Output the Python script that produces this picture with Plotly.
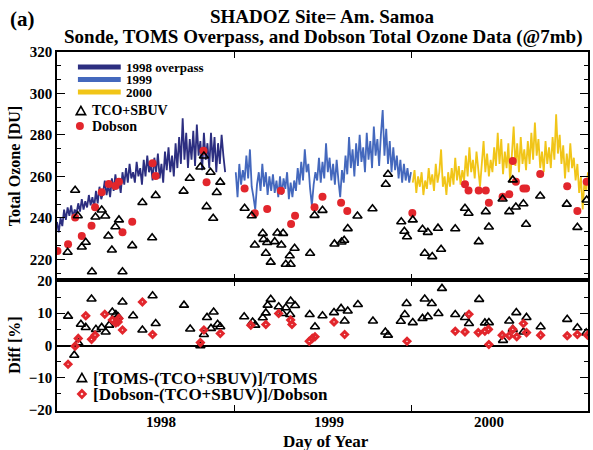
import plotly.graph_objects as go

# ---------------- data ----------------
# TOMS overpass total ozone (DU), sampled every 4 days; x = day index on the plot axis
days_1998 = list(range(0, 381, 4))
toms_1998 = [238, 233, 240, 236, 244, 239, 245, 241, 246, 240,
             244, 242, 247, 243, 249, 244, 248, 245, 251, 246,
             250, 245, 253, 247, 255, 249, 252, 258, 251, 256,
             250, 259, 253, 261, 254, 258, 252, 262, 256, 264,
             257, 266, 259, 262, 257, 267, 260, 264, 256, 268,
             260, 270, 262, 266, 258, 269, 262, 271, 259, 266,
             257, 272, 263, 274, 262, 270, 260, 276, 264, 279,
             266, 288, 268, 281, 264, 278, 268, 282, 265, 285,
             270, 277, 263, 281, 268, 276, 264, 281, 267, 279,
             262, 276, 266, 280, 270, 262]
days_1999 = list(range(404, 801, 4))
toms_1999 = [262, 250, 266, 256, 263, 258, 270, 259, 273, 255,
             250, 244, 256, 262, 253, 266, 255, 262, 251, 260,
             253, 261, 252, 258, 250, 260, 251, 259, 254, 262,
             249, 257, 250, 258, 253, 264, 256, 267, 258, 273,
             262, 266, 254, 246, 256, 262, 258, 269, 257, 267,
             259, 276, 262, 269, 258, 266, 256, 268, 258, 250,
             263, 257, 270, 261, 279, 264, 273, 260, 276, 265,
             280, 267, 274, 262, 281, 268, 277, 264, 284, 270,
             278, 265, 280, 292, 270, 283, 266, 277, 262, 274,
             263, 270, 259, 268, 257, 266, 258, 264, 257, 262]
days_2000 = list(range(804, 1201, 4))
toms_2000 = [257, 263, 252, 260, 255, 262, 251, 258, 254, 264,
             256, 261, 253, 266, 257, 262, 273, 255, 260, 251,
             262, 255, 264, 256, 269, 258, 265, 256, 263, 258,
             270, 260, 274, 262, 268, 259, 272, 263, 255, 266,
             277, 262, 271, 260, 268, 262, 274, 265, 281, 266,
             278, 261, 272, 264, 276, 257, 270, 284, 265, 276,
             262, 279, 266, 273, 263, 277, 266, 281, 268, 286,
             270, 278, 264, 272, 262, 277, 266, 274, 264, 279,
             268, 290, 271, 280, 266, 275, 259, 271, 262, 276,
             264, 269, 258, 266, 252, 260, 244, 258, 253, 262]

# Sonde TCO + SBUV total ozone
tco_day = [24, 41, 47, 56, 65, 79, 87, 101, 109, 116,
           124, 132, 140, 148, 170, 193, 215, 223, 286, 300,
           324, 332, 347, 338, 353, 361, 369, 424, 440, 447,
           465, 467, 472, 475, 483, 492, 498, 507, 511, 517,
           526, 528, 537, 572, 582, 600, 627, 643, 649, 657,
           679, 713, 743, 748, 778, 785, 791, 804, 826, 831,
           838, 848, 861, 868, 900, 922, 930, 953, 969, 976,
           1007, 1022, 1030, 1037, 1054, 1060, 1092, 1152, 1176, 1197]
tco_du = [223.4, 253.3, 241.0, 225.9, 228.2, 214.0, 240.4, 243.8, 240.9, 231.2,
          224.5, 235.7, 239.0, 214.0, 226.6, 247.4, 230.4, 250.8, 252.9, 259.1,
          264.5, 269.8, 262.0, 245.4, 239.8, 252.2, 257.2, 244.6, 241.0, 226.9,
          232.5, 229.6, 222.9, 228.1, 218.6, 228.5, 232.7, 226.9, 232.5, 217.6,
          221.7, 217.6, 225.3, 222.9, 241.2, 243.6, 227.4, 228.3, 229.2, 234.8,
          240.9, 244.4, 256.2, 261.0, 238.1, 233.5, 230.9, 239.0, 234.5, 222.9,
          233.0, 221.3, 235.0, 224.8, 234.7, 244.6, 242.2, 228.5, 243.0, 235.6,
          249.1, 243.0, 258.3, 245.2, 246.8, 236.9, 250.5, 246.6, 235.4, 248.6]

# Dobson total ozone
dob_day = [1, 25, 41, 56, 78, 86, 101, 117, 132, 140,
           148, 170, 216, 223, 331, 338, 424, 447, 475, 506,
           529, 538, 582, 600, 642, 656, 803, 922, 930, 953,
           969, 976, 1007, 1022, 1030, 1037, 1054, 1060, 1092, 1153,
           1176, 1197]
dob_du = [224.0, 227.2, 240.2, 231.2, 236.2, 245.1, 252.3, 256.3, 255.4, 257.4,
          233.0, 238.1, 266.3, 260.2, 272.4, 257.2, 254.2, 242.2, 244.3, 253.1,
          237.0, 241.0, 245.1, 250.2, 247.3, 243.3, 242.3, 256.2, 253.2, 253.2,
          253.2, 247.3, 250.2, 251.4, 267.4, 257.4, 254.2, 254.2, 261.1, 255.2,
          243.3, 257.4]

# [TOMS-(TCO+SBUV)]/TOMS (%)
dtoms_day = [25, 39, 48, 54, 65, 78, 88, 101, 110, 118,
             125, 133, 138, 148, 172, 193, 216, 223, 287, 301,
             324, 332, 339, 348, 354, 363, 369, 423, 442, 448,
             465, 472, 476, 483, 501, 510, 517, 527, 528, 538,
             571, 583, 600, 626, 642, 650, 657, 680, 714, 742,
             748, 777, 786, 790, 804, 826, 831, 838, 847, 862,
             870, 900, 922, 931, 954, 967, 976, 1008, 1022, 1030,
             1038, 1054, 1061, 1093, 1153, 1176, 1196]
dtoms_pct = [9.1, -3.0, 0.8, 6.6, 5.6, 14.4, 5.0, 5.6, 4.2, 6.3,
             10.4, 9.6, 8.9, 13.5, 9.2, 4.8, 15.4, 6.8, 12.5, 5.1,
             -0.1, 3.4, 8.7, 5.3, 10.4, 6.6, 5.8, 8.9, 7.3, 6.3,
             8.6, 10.1, 12.5, 14.3, 12.0, 9.9, 11.7, 9.6, 13.8, 12.4,
             9.6, 5.8, 9.2, 10.2, 11.5, 7.6, 10.7, 12.7, 7.6, 4.2,
             3.2, 7.5, 9.6, 13.0, 7.1, 8.4, 14.4, 8.9, 13.0, 9.9,
             17.7, 9.6, 8.7, 6.8, 14.3, 7.0, 7.1, 1.6, 7.6, 5.0,
             10.2, 4.2, 8.7, 5.8, 8.1, 5.5, 3.9]

# [Dobson-(TCO+SBUV)]/Dobson (%)
ddob_day = [25, 41, 48, 65, 78, 86, 108, 125, 133, 138,
            140, 148, 193, 216, 324, 332, 369, 438, 472, 501,
            528, 531, 570, 577, 583, 626, 650, 791, 900, 922,
            931, 952, 967, 975, 976, 1006, 1022, 1030, 1039, 1054,
            1061, 1093, 1153, 1176, 1199]
ddob_pct = [-5.8, -0.2, 2.2, 9.2, 1.9, 3.2, 9.7, 7.9, 7.0, 7.3,
            8.4, 4.8, 13.5, 3.4, 0.9, 4.8, 3.7, 6.3, 6.5, 9.9,
            7.9, 6.5, 1.3, 2.2, 2.7, 7.3, 3.4, 1.3, 4.4, 4.2,
            9.7, 4.0, 4.4, 5.0, 0.3, 3.2, 3.0, 5.0, 2.7, 6.8,
            4.0, 3.2, 3.0, 3.4, 3.2]

year_labels = ["1998", "1999", "2000"]
year_label_day = [236, 615, 977]
series_names = ["1998 overpass", "1999", "2000"]

# ---------------- styling ----------------
FONT = "Liberation Serif"
NAVY, BLUE, YELLOW, RED = "#2c2e80", "#4468bd", "#f1c518", "#e2262c"
W, H = 593, 450
ML, MR, MT, MB = 57, 3, 52, 39
PW, PH = W - ML - MR, H - MT - MB
SPLIT = (411 - 280) / PH  # bottom panel height fraction


def px(x):
    return (x - ML) / PW


def py(y):
    return (H - MB - y) / PH


fig = go.Figure()
for d, v, c in [(days_1998, toms_1998, NAVY), (days_1999, toms_1999, BLUE), (days_2000, toms_2000, YELLOW)]:
    fig.add_trace(go.Scatter(x=d, y=v, mode="lines", line=dict(color=c, width=1.8),
                             xaxis="x", yaxis="y", showlegend=False))
fig.add_trace(go.Scatter(x=dob_day, y=dob_du, mode="markers",
                         marker=dict(symbol="circle", size=8, color=RED),
                         xaxis="x", yaxis="y", showlegend=False))
fig.add_trace(go.Scatter(x=tco_day, y=tco_du, mode="markers",
                         marker=dict(symbol="triangle-up-open", size=8, color="black",
                                     line=dict(width=1.6, color="black")),
                         xaxis="x", yaxis="y", showlegend=False))
fig.add_trace(go.Scatter(x=dtoms_day, y=dtoms_pct, mode="markers",
                         marker=dict(symbol="triangle-up-open", size=8, color="black",
                                     line=dict(width=1.6, color="black")),
                         xaxis="x2", yaxis="y2", showlegend=False))
fig.add_trace(go.Scatter(x=ddob_day, y=ddob_pct, mode="markers",
                         marker=dict(symbol="diamond-open", size=4.5, color=RED,
                                     line=dict(width=3, color=RED)),
                         xaxis="x2", yaxis="y2", showlegend=False))

tickfont = dict(family=FONT, size=15, color="black", weight="bold")
xcommon = dict(range=[0, 1200], tickvals=[400, 800], showticklabels=False, ticks="inside",
               ticklen=6, tickwidth=1.3, tickcolor="black", showline=True, linewidth=1.5,
               linecolor="black", mirror="allticks", showgrid=False, zeroline=False)
ycommon = dict(ticks="inside", ticklen=8, tickwidth=1.3, tickcolor="black", showline=True,
               linewidth=1.5, linecolor="black", mirror="allticks", showgrid=False,
               tickfont=tickfont)

fig.update_layout(
    width=W, height=H,
    margin=dict(l=ML, r=MR, t=MT, b=MB),
    plot_bgcolor="white", paper_bgcolor="white",
    showlegend=False,
    xaxis=dict(domain=[0, 1], anchor="y", **xcommon),
    xaxis2=dict(domain=[0, 1], anchor="y2", **xcommon),
    yaxis=dict(domain=[SPLIT, 1], anchor="x", range=[210, 320], tick0=0, dtick=20,
               zeroline=False,
               minor=dict(dtick=20 / 3, tick0=220, ticks="inside", ticklen=4,
                          tickcolor="black", tickwidth=1.2),
               **ycommon),
    yaxis2=dict(domain=[0, SPLIT], anchor="x2", range=[-20.3, 20.3], tick0=0, dtick=10,
                zeroline=True, zerolinecolor="black", zerolinewidth=1.5,
                minor=dict(dtick=5, ticks="inside", ticklen=4, tickcolor="black", tickwidth=1.2),
                **ycommon),
)

ann = []


def text(x, y, s, size, xanchor="center", angle=0, xref="paper"):
    ann.append(dict(x=x, y=y, xref=xref, yref="paper", text=s, showarrow=False,
                    xanchor=xanchor, yanchor="middle", textangle=angle,
                    font=dict(family=FONT, size=size, color="black", weight="bold")))


text(px(22), py(19), "(a)", 21)
text(0.5, py(17), "SHADOZ Site= Am. Samoa", 19)
text(0.5, py(37), "Sonde, TOMS Overpass, and Dobson Total Ozone Data (@7mb)", 19)
text(px(14), (py(52) + py(280)) / 2, "Total Ozone [DU]", 16, angle=-90)
text(px(14), (py(280) + py(411)) / 2, "Diff [%]", 16, angle=-90)
for lab, d in zip(year_labels, year_label_day):
    text(d, py(422), lab, 15, xref="x2")
text(px(327), py(441), "Day of Year", 17)

shapes = []
# top legend: line samples
for yy, c, name in zip([67, 79.5, 92], [NAVY, BLUE, YELLOW], series_names):
    shapes.append(dict(type="line", xref="paper", yref="paper", x0=px(78), x1=px(121),
                       y0=py(yy), y1=py(yy), line=dict(color=c, width=5)))
    text(px(124), py(yy), name, 13, xanchor="left")


def tri(cx, cy):
    return (f"M {px(cx)},{py(cy - 4.6)} L {px(cx + 4.7)},{py(cy + 3.6)} "
            f"L {px(cx - 4.7)},{py(cy + 3.6)} Z")


shapes.append(dict(type="path", xref="paper", yref="paper", path=tri(81, 111),
                   line=dict(color="black", width=1.6)))
text(px(90), py(111), "TCO+SBUV", 14, xanchor="left")
shapes.append(dict(type="circle", xref="paper", yref="paper", x0=px(76), x1=px(84),
                   y0=py(130), y1=py(122), fillcolor=RED, line=dict(width=0)))
text(px(90), py(126), "Dobson", 14, xanchor="left")

# bottom legend
shapes.append(dict(type="path", xref="paper", yref="paper", path=tri(82, 378),
                   line=dict(color="black", width=1.6)))
text(px(91), py(378), "[TOMS-(TCO+SBUV)]/TOMS", 17, xanchor="left")
dpath = (f"M {px(82)},{py(390.6)} L {px(85.4)},{py(394)} L {px(82)},{py(397.4)} "
         f"L {px(78.6)},{py(394)} Z")
shapes.append(dict(type="path", xref="paper", yref="paper", path=dpath,
                   fillcolor="white", line=dict(color=RED, width=2.8)))
text(px(91), py(394), "[Dobson-(TCO+SBUV)]/Dobson", 17, xanchor="left")

fig.update_layout(annotations=ann, shapes=shapes)
fig.write_html("out.html", config={"displayModeBar": False},
               post_script="document.body.style.margin='0';document.body.style.overflow='hidden';")
